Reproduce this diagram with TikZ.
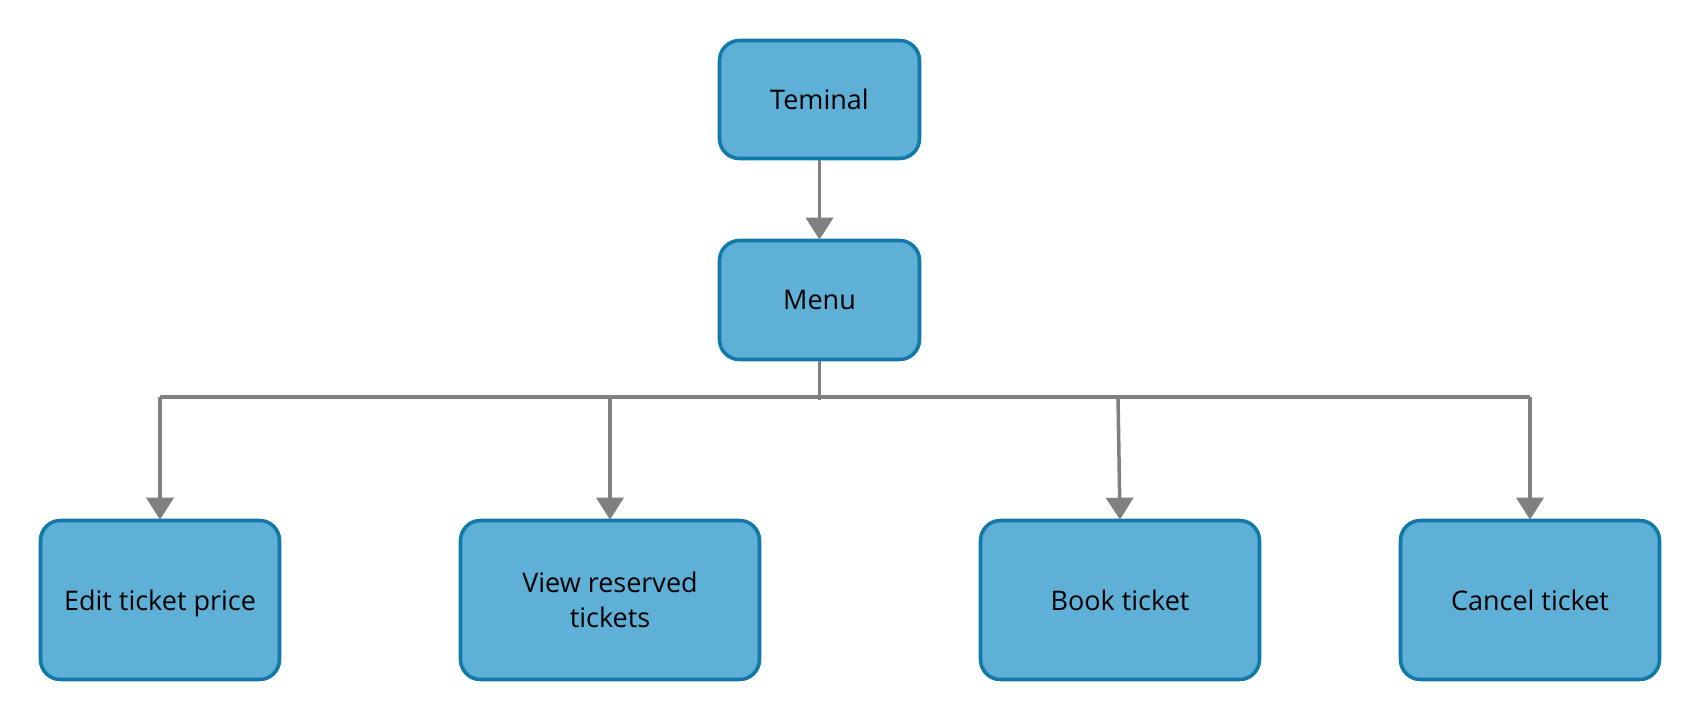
\documentclass[tikz,border=0pt]{standalone}
\usepackage{fontspec}
\setmainfont{Open Sans}
\usetikzlibrary{arrows.meta}
\definecolor{boxfill}{HTML}{5FB0D6}
\definecolor{boxline}{HTML}{1279A8}
\definecolor{conncol}{HTML}{808080}
\tikzset{
  box/.style={draw=boxline, fill=boxfill, line width=3.6pt, rounded corners=20pt,
    inner sep=0pt, align=center, text=black,
    font=\fontsize{27pt}{35pt}\selectfont},
  conn/.style={draw=conncol, line width=3.5pt},
  arr/.style={conn, -{Triangle[width=27pt,length=22pt]}, shorten >=-1pt}
}
\begin{document}
\begin{tikzpicture}[x=1pt,y=-1pt]
\useasboundingbox (0,0) rectangle (1700,721);
\node[box, minimum width=200pt, minimum height=118pt] (term) at (819.5,99.5) {Teminal};
\node[box, minimum width=200pt, minimum height=119pt] (menu) at (819.5,300) {Menu};
\node[box, minimum width=239pt, minimum height=159pt, text depth=0pt] (edit) at (160,600) {Edit ticket price};
\node[box, minimum width=299pt, minimum height=159pt] (view) at (610,600) {View reserved\\tickets};
\node[box, minimum width=279pt, minimum height=159pt] (book) at (1120,600) {Book ticket};
\node[box, minimum width=259pt, minimum height=159pt] (cancel) at (1530,600) {Cancel ticket};
\coordinate (jl) at (160,397);
\coordinate (jr) at (1530,397);
\draw[arr] (term.south) -- (menu.north);
\draw[conn] (menu.south) -- ++(0,39);
\draw[conn] (jl) -- (jr);
\draw[arr] (jl) -- (edit.north);
\draw[arr] (610,397) -- (view.north);
\draw[arr] (1118,397) -- (book.north);
\draw[arr] (jr) -- (cancel.north);
\end{tikzpicture}
\end{document}
